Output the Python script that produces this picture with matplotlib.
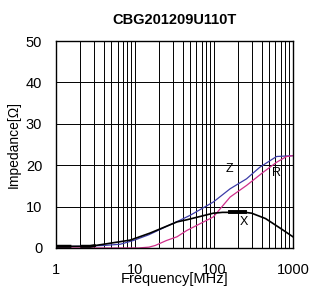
import matplotlib.pyplot as plt
import numpy as np

plt.rcParams["font.family"] = ["Liberation Sans", "DejaVu Sans"]

freq_z = [1, 2, 4, 6.5, 9.5, 15, 25, 37, 50, 98, 160, 258, 380, 620, 1000]
z_vals = [0.3, 0.4, 0.6, 0.9, 1.8, 3.2, 5.2, 6.7, 7.9, 11.1, 14.3, 16.7, 19.5, 22.1, 22.3]

freq_r = [1, 11, 15, 18, 25, 34, 45, 98, 160, 258, 420, 620, 830, 1000]
r_vals = [0.0, 0.0, 0.2, 0.6, 1.8, 2.7, 4.2, 7.5, 12.3, 15.1, 18.3, 20.7, 22.1, 22.3]

freq_x = [1, 2.7, 4, 8.7, 15.5, 34, 45, 98, 128, 160, 250, 300, 450, 700, 1000]
x_vals = [0.4, 0.4, 0.9, 1.9, 3.6, 6.3, 6.8, 8.4, 8.6, 8.6, 8.6, 8.4, 7.1, 4.7, 2.7]

fig, ax = plt.subplots(figsize=(3.1, 2.89), dpi=100)
fig.subplots_adjust(left=0.181, right=0.945, top=0.858, bottom=0.142)

ax.plot(freq_z, z_vals, color="#3c3ca8", lw=0.9)
ax.plot(freq_r, r_vals, color="#d0308c", lw=0.9)
ax.plot(freq_x, x_vals, color="black", lw=1.2)

# thick dashed stretches of the X trace
fx = np.array(freq_x, dtype=float)
xv = np.array(x_vals, dtype=float)
low = fx <= 4
ax.plot(fx[low], xv[low], color="black", lw=2.2, dashes=(5, 3))
mid = (fx >= 160) & (fx <= 250)
ax.plot(fx[mid], xv[mid], color="black", lw=2.8)

ax.set_xscale("log")
ax.set_xlim(1, 1000)
ax.set_ylim(0, 50)
ax.set_yticks([0, 10, 20, 30, 40, 50])
ax.set_xticks([1, 10, 100, 1000])
ax.set_xticklabels(["1", "10", "100", "1000"])
ax.grid(True, which="both", color="black", lw=0.7)
ax.tick_params(which="both", length=0, labelsize=10.5)
ax.tick_params(axis="y", pad=10)
ax.tick_params(axis="x", pad=11)
for s in ax.spines.values():
    s.set_color("black")
    s.set_linewidth(1.0)

ax.text(156, 19.1, "Z", fontsize=9, ha="center", va="center")
ax.text(620, 18.1, "R", fontsize=9, ha="center", va="center")
ax.text(241, 6.3, "X", fontsize=9, ha="center", va="center")

ax.set_title("CBG201209U110T", fontsize=10.5, fontweight="bold", pad=12)
ax.set_ylabel("Impedance[\u03a9]", fontsize=10, labelpad=4)
ax.set_xlabel("Frequency[MHz]", fontsize=10.5, labelpad=-4)

fig.savefig("out.png", dpi=100)
